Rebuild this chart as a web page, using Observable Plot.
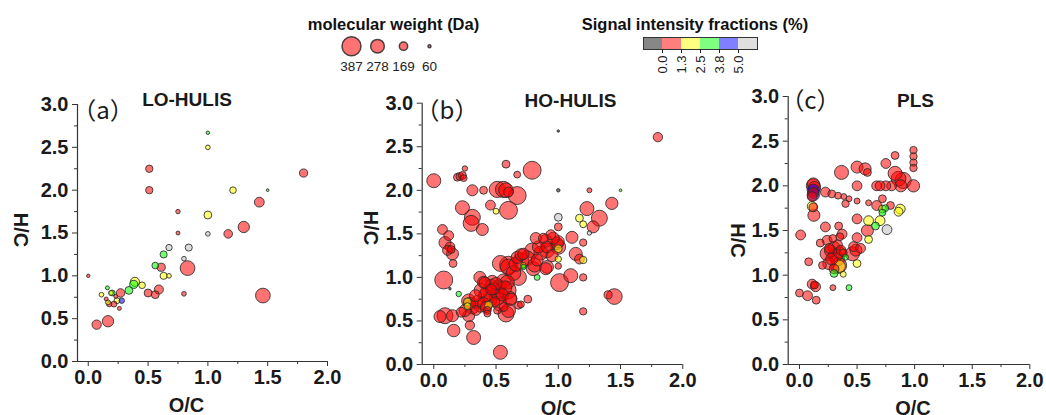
<!DOCTYPE html>
<html><head><meta charset="utf-8">
<script src="https://cdn.jsdelivr.net/npm/d3@7"></script>
<script src="https://cdn.jsdelivr.net/npm/@observablehq/plot@0.6"></script>
<style>
body{margin:0;background:#fff;}
#chart{position:relative;width:1046px;height:415px;overflow:hidden;font-family:"Liberation Sans",Arial,sans-serif;background:#fff;}
.pane{position:absolute;}
.ltitle{position:absolute;font-weight:bold;font-size:16.5px;text-align:center;line-height:20px;color:#111;}
</style></head><body><div id="chart"></div>
<script>
// ---- data: [O/C, H/C, molecular weight (Da), signal intensity fraction (%)] ----
const loHulis = [
  [0.00,1.00,70,0.5],[0.07,0.43,190,0.5],[0.165,0.47,230,0.5],[0.51,2.25,150,0.5],[0.51,2.00,150,0.5],
  [1.00,2.67,70,3.0],[1.00,2.50,95,2.0],[1.21,2.00,135,2.0],[1.50,2.00,55,3.0],[1.80,2.20,165,0.5],
  [1.43,1.86,200,0.5],[1.30,1.57,230,0.5],[1.17,1.49,175,0.5],[1.00,1.71,160,2.0],[1.00,1.49,95,6.0],
  [0.75,1.75,90,0.5],[0.75,1.50,80,0.5],[0.83,1.09,300,0.5],[1.46,0.77,300,0.5],[0.80,0.79,95,0.5],
  [0.675,1.33,130,6.0],[0.84,1.33,145,6.0],[0.80,1.20,95,6.0],[0.63,1.25,145,3.0],[0.56,1.12,135,3.0],
  [0.61,1.10,165,0.5],[0.63,1.00,145,2.0],[0.675,1.00,95,2.0],[0.59,0.84,185,0.5],[0.56,0.78,160,0.5],
  [0.50,0.80,160,0.5],[0.39,0.93,185,2.0],[0.38,0.90,165,3.0],[0.45,0.89,135,2.0],[0.34,0.83,160,3.0],
  [0.27,0.80,175,0.5],[0.20,0.80,120,3.0],[0.16,0.86,80,3.0],[0.11,0.78,95,2.0],[0.24,0.71,120,2.0],
  [0.28,0.71,110,4.5],[0.215,0.67,120,0.5],[0.175,0.67,110,0.5],[0.165,0.69,100,2.0],[0.26,0.62,80,0.5],
  [0.15,0.73,80,0.5],[0.23,0.76,80,0.5],[0.19,0.80,100,2.0]
];
const hoHulis = [
  [0.00,2.11,285,0.5],[0.19,2.15,160,0.5],[0.21,2.16,160,0.5],[0.23,2.17,160,0.5],[0.24,2.14,140,0.5],
  [0.25,2.25,110,0.5],[0.58,2.30,160,0.5],[0.67,2.18,140,0.5],[0.79,2.23,365,0.5],[0.31,2.00,225,0.5],
  [0.40,2.00,160,0.5],[0.51,2.01,330,0.5],[0.56,2.01,330,0.5],[0.58,2.00,300,0.5],[0.60,1.98,200,0.5],
  [0.67,1.94,365,0.5],[0.455,1.83,200,0.5],[0.50,1.76,120,2.0],[0.60,1.77,365,0.5],[0.23,1.80,285,0.5],
  [0.31,1.69,325,0.5],[0.30,1.62,325,0.5],[0.39,1.55,245,0.5],[1.80,2.61,190,0.5],[1.00,2.68,50,-1],
  [1.00,2.00,70,-1],[1.25,2.00,100,0.5],[1.50,2.00,55,3.0],
  [0.07,1.55,200,0.5],[0.12,1.48,200,0.5],[0.09,1.40,245,0.5],[0.13,1.35,200,0.5],[0.11,1.31,200,0.5],
  [0.15,1.27,245,0.5],[0.155,1.16,160,0.5],[0.14,1.32,160,0.5],[0.08,0.97,365,0.5],[0.13,0.87,50,-1],
  [0.20,0.81,110,3.0],[0.09,0.56,325,0.5],[0.05,0.55,245,0.5],[0.15,0.56,245,0.5],[0.16,0.39,255,0.5],
  [0.29,0.45,190,0.5],[0.32,0.31,285,0.5],[0.535,0.14,285,0.5],
  [0.27,0.72,160,2.0],[0.27,0.67,140,2.0],[0.28,0.56,245,0.5],[0.25,0.62,245,0.5],[0.28,0.73,285,0.5],
  [0.31,0.66,285,0.5],[0.29,0.70,245,0.5],[0.335,0.79,245,0.5],[0.375,0.68,285,0.5],[0.40,0.70,245,0.5],
  [0.415,0.79,285,0.5],[0.43,0.81,325,0.5],[0.41,0.94,230,0.5],[0.37,1.00,245,0.5],[0.40,0.945,245,0.5],
  [0.46,0.91,245,0.5],[0.48,0.87,245,0.5],[0.52,0.89,285,0.5],[0.51,0.83,285,0.5],[0.51,0.77,325,0.5],
  [0.44,0.68,160,2.0],[0.43,0.62,160,0.5],[0.43,0.585,140,0.5],[0.51,0.62,150,0.5],[0.56,0.96,285,0.5],
  [0.59,0.945,285,0.5],[0.59,0.85,360,0.5],[0.61,0.76,285,0.5],[0.62,0.75,245,0.5],[0.60,0.62,285,0.5],
  [0.58,0.58,325,0.5],[0.535,1.16,325,0.5],[0.60,1.12,325,0.5],[0.60,1.14,365,0.5],[0.68,1.00,325,0.5],
  [0.68,0.68,160,0.5],[0.70,0.69,140,0.5],[0.755,0.75,160,0.5],[0.67,1.23,245,0.5],[0.70,1.26,245,0.5],
  [0.72,1.27,230,0.5],[0.70,1.19,325,0.5],[0.72,1.14,110,2.0],[0.72,1.12,110,3.0],[0.79,1.31,300,0.5],
  [0.80,1.10,285,0.5],[0.81,1.14,280,0.5],[0.83,1.20,245,0.5],[0.84,1.35,245,0.5],[0.82,1.45,230,0.5],
  [0.83,1.00,120,3.0],[0.90,1.10,245,0.5],[0.91,1.12,260,0.5],[0.90,1.42,260,0.5],[0.91,1.31,300,0.5],
  [0.94,1.49,200,0.5],[0.91,1.35,245,0.5],[0.99,1.39,245,0.5],[1.00,1.41,245,1.0],[1.00,1.35,300,0.5],
  [1.00,1.33,160,2.0],[1.00,1.58,160,0.5],[1.00,1.69,160,6.0],[1.00,1.21,130,2.0],[1.00,1.13,130,0.5],
  [1.01,0.94,365,0.5],[1.10,1.02,285,0.5],[1.11,1.46,245,0.5],[1.14,1.27,265,0.5],[1.17,1.21,200,0.5],
  [1.20,1.20,150,2.0],[1.20,1.40,150,0.5],[1.20,1.00,150,0.5],[1.20,0.61,150,0.5],[1.17,1.68,160,2.0],
  [1.20,1.61,140,2.0],[1.25,1.51,90,6.0],[1.23,1.79,285,0.5],[1.33,1.68,325,0.5],[1.28,1.58,245,0.5],
  [1.43,1.85,250,0.5],[1.40,0.80,165,0.5],[1.45,0.78,320,0.5],
  [0.22,0.60,200,0.5],[0.34,0.62,200,0.5],[0.46,0.86,220,0.5],[0.55,0.80,250,0.5],[0.49,0.72,200,0.5],
  [0.56,0.66,180,0.5],[0.45,0.75,300,0.5],[0.38,0.85,285,0.5],[0.53,0.70,300,0.5],[0.47,0.95,260,0.5],
  [0.35,0.72,260,0.5],[0.57,0.88,285,0.5],[0.42,0.66,230,0.5],[0.50,0.93,245,0.5],[0.64,1.05,300,0.5],
  [0.66,1.15,285,0.5],[0.75,1.22,300,0.5],[0.86,1.28,285,0.5],[0.95,1.25,245,0.5],[0.88,1.45,200,0.5],
  [0.96,1.45,245,0.5]
];
const pls = [
  [0.99,2.40,150,0.5],[0.99,2.33,150,0.5],[0.99,2.26,150,0.5],[0.99,2.20,150,0.5],[0.99,2.00,250,0.5],
  [0.83,2.34,160,0.5],[0.75,2.25,200,0.5],[0.83,2.14,285,0.5],[0.90,2.06,330,0.5],[0.86,2.08,300,0.5],
  [0.88,2.00,245,0.5],[0.80,2.00,200,0.5],[0.75,2.00,200,0.5],[0.67,2.00,200,0.5],[0.70,2.00,200,0.5],
  [0.50,2.00,200,0.5],[0.50,2.21,245,0.5],[0.57,2.19,245,0.5],[0.59,2.15,160,0.5],[0.365,2.15,285,0.5],
  [0.12,2.00,285,0.5],[0.12,2.02,250,0.5],[0.13,1.98,250,0.5],[0.12,1.95,250,4.5],[0.12,1.90,250,4.5],
  [0.12,1.92,220,0.5],[0.11,1.88,200,0.5],[0.225,1.93,200,0.5],[0.28,1.91,160,0.5],[0.335,1.89,140,0.5],
  [0.385,1.88,120,0.5],[0.43,1.855,120,0.5],[0.50,1.83,120,0.5],[0.40,1.80,150,0.5],[0.60,1.81,120,0.5],
  [0.67,1.78,200,0.5],[0.72,1.855,160,0.5],[0.72,1.74,160,2.0],[0.745,1.75,140,3.0],[0.79,1.78,160,0.5],
  [0.875,1.74,200,2.0],[0.86,1.71,180,2.0],[0.11,1.77,200,2.0],[0.12,1.76,180,0.5],[0.125,1.67,245,0.5],
  [0.72,1.70,140,3.0],[0.60,1.61,200,2.0],[0.70,1.61,200,2.0],[0.66,1.55,160,3.0],[0.76,1.51,200,6.0],
  [0.50,1.63,200,0.5],[0.59,1.50,245,0.5],[0.01,1.45,200,0.5],[0.225,1.54,200,0.5],[0.34,1.55,160,0.5],
  [0.18,1.36,160,0.5],[0.24,1.39,200,0.5],[0.29,1.41,160,0.5],[0.37,1.46,200,0.5],[0.35,1.43,160,0.5],
  [0.50,1.42,200,0.5],[0.49,1.28,245,0.5],[0.46,1.24,285,0.5],[0.47,1.32,200,0.5],[0.40,1.20,120,3.0],
  [0.30,1.31,245,0.5],[0.24,1.24,285,0.5],[0.31,1.22,285,0.5],[0.27,1.27,245,0.5],[0.33,1.34,200,0.5],
  [0.36,1.28,200,0.5],[0.38,1.25,160,0.5],[0.255,1.13,245,0.5],[0.20,1.11,160,0.5],[0.34,1.11,325,0.5],
  [0.345,1.10,250,2.0],[0.30,1.07,200,0.5],[0.30,1.02,160,3.0],[0.38,1.01,120,2.0],[0.50,1.13,160,2.0],
  [0.60,1.40,160,2.0],[0.43,0.86,120,3.0],[0.29,0.86,120,0.5],[0.08,1.15,160,0.5],[0.11,0.90,200,0.5],
  [0.14,0.87,200,0.5],[0.13,0.89,160,0.5],[0.00,0.80,160,0.5],[0.07,0.77,200,0.5],[0.145,0.72,160,0.5],
  [0.53,1.30,200,0.5],[0.28,1.18,245,0.5],[0.33,1.18,285,0.5],[0.26,1.30,200,0.5],[0.35,1.25,245,0.5]
];

// ---- labels, ticks, legend values ----
const panelLetters = ["（a）", "（b）", "（c）"];
const panelTitles = ["LO-HULIS", "HO-HULIS", "PLS"];
const xLabel = "O/C", yLabel = "H/C";
const xTicks = [0, 0.5, 1.0, 1.5, 2.0];
const xMinor = [0.25, 0.75, 1.25, 1.75];
const yTicks = [0, 0.5, 1.0, 1.5, 2.0, 2.5, 3.0];
const yMinor = [0.25, 0.75, 1.25, 1.75, 2.25, 2.75];
const sizeLegendTitle = "molecular weight (Da)";
const sizeLegendMW = [387, 278, 169, 60];
const colorLegendTitle = "Signal intensity fractions (%)";
const colorThresholds = [0, 1.3, 2.5, 3.8, 5.0];
const colorLabels = ["0.0", "1.3", "2.5", "3.8", "5.0"];
const binColors = ["#101010", "#ff0000", "#ffff00", "#00ff00", "#0000ff", "#c0c0c0"];

// ---- layout (positions only) ----
const FONT = "Liberation Sans, Arial, sans-serif";
const rScale = {type: "linear", domain: [0, 387], range: [0, 9.5]};
const layouts = [
  {left: 0,   width: 337, ml: 77,   mr: 10,   mt: 24,   mb: 54, x0: -0.09,
   yl: [-57, -3], xl: [-16, 44], let: [25.5, 7], tit: [109.5, -4.5]},
  {left: 350, width: 345, ml: 71.7, mr: 12.7, mt: 22.7, mb: 51, x0: -0.093,
   yl: [-52, -6], xl: [6, 44], let: [24.8, 8.3], tit: [148.3, -2.7]},
  {left: 700, width: 346, ml: 87.7, mr: 16.7, mt: 16,   mb: 51, x0: -0.098,
   yl: [-51, 10], xl: [4, 44], let: [22.3, 5], tit: [127.3, 4]}
];
const datasets = [loHulis, hoHulis, pls];

const chart = document.getElementById("chart");
function place(node, left, top) {
  const d = document.createElement("div");
  d.className = "pane";
  d.style.left = left + "px";
  d.style.top = top + "px";
  d.appendChild(node);
  chart.appendChild(d);
}

datasets.forEach((rows, k) => {
  const L = layouts[k];
  const pts = rows.map(([oc, hc, mw, f]) => ({oc, hc, mw, f}));
  const svg = Plot.plot({
    width: L.width, height: 335,
    marginLeft: L.ml, marginRight: L.mr, marginTop: L.mt, marginBottom: L.mb,
    x: {domain: [L.x0, 2.0]},
    y: {domain: [0, 3.0]},
    r: rScale,
    color: {type: "threshold", domain: colorThresholds, range: binColors},
    style: {fontFamily: FONT, fontSize: "20px", fontWeight: "bold", color: "#1a1a1a", background: "transparent", overflow: "visible"},
    marks: [
      Plot.dot(pts, {x: "oc", y: "hc", r: "mw", fill: "f", fillOpacity: 0.55, stroke: "#2a2a2a", strokeOpacity: 0.85, strokeWidth: 1}),
      Plot.ruleX([L.x0], {stroke: "#333", strokeWidth: 1.2}),
      Plot.ruleY([0], {stroke: "#333", strokeWidth: 1.2}),
      Plot.axisY({ticks: yTicks, tickSize: 5, tickPadding: 4, tickFormat: d3.format(".1f"), label: null, stroke: "#333"}),
      Plot.axisY({ticks: yMinor, tickSize: 3, tickFormat: () => "", label: null, stroke: "#333"}),
      Plot.axisX({ticks: xTicks, tickSize: 5, tickPadding: 3, tickFormat: d3.format(".1f"), label: null, stroke: "#333"}),
      Plot.axisX({ticks: xMinor, tickSize: 3, tickFormat: () => "", label: null, stroke: "#333"}),
      Plot.text([xLabel], {text: d => d, frameAnchor: "bottom", dx: L.xl[0], dy: L.xl[1], lineAnchor: "middle", fontSize: 20, fontWeight: "bold"}),
      Plot.text([yLabel], {text: d => d, frameAnchor: "left", dx: L.yl[0], dy: L.yl[1], rotate: 90, textAnchor: "middle", lineAnchor: "middle", fontSize: 20, fontWeight: "bold"}),
      Plot.text([panelLetters[k]], {text: d => d, frameAnchor: "top-left", dx: L.let[0], dy: L.let[1], textAnchor: "middle", lineAnchor: "middle", fontSize: 24, fontWeight: "normal", fontFamily: "Noto Sans CJK SC"}),
      Plot.text([panelTitles[k]], {text: d => d, frameAnchor: "top-left", dx: L.tit[0], dy: L.tit[1], textAnchor: "middle", lineAnchor: "middle", fontSize: 19, fontWeight: "bold"})
    ]
  });
  place(svg, L.left, 80);
});

// ---- size legend ----
const sizeLeg = Plot.plot({
  width: 140, height: 46, margin: 0,
  x: {type: "point", domain: sizeLegendMW, range: [30, 109], padding: 0, axis: null},
  r: rScale,
  style: {fontFamily: FONT, background: "transparent", overflow: "visible"},
  marks: [
    Plot.dot(sizeLegendMW, {x: d => d, r: d => d, frameAnchor: "top", dy: 15.7, fill: "#ff0000", fillOpacity: 0.55, stroke: "#2a2a2a", strokeOpacity: 0.85}),
    Plot.text(sizeLegendMW, {x: d => d, text: d => String(d), frameAnchor: "top", dy: 36, lineAnchor: "middle", fontSize: 13.5, fill: "#222"})
  ]
});
place(sizeLeg, 320, 30);

// ---- colour legend ----
const binIdx = d3.range(binColors.length);
const colLeg = Plot.plot({
  width: 140, height: 50, marginLeft: 13, marginRight: 13, marginTop: 7, marginBottom: 31,
  x: {domain: [0, binColors.length]},
  style: {fontFamily: FONT, fontSize: "13px", background: "transparent", overflow: "visible", color: "#222"},
  marks: [
    Plot.rect(binIdx, {x1: d => d, x2: d => d + 1, fill: d => binColors[d], fillOpacity: 0.5}),
    Plot.frame({stroke: "#333"}),
    Plot.axisX({ticks: d3.range(1, binColors.length), tickSize: 4, tickPadding: 2, tickRotate: -90,
      tickFormat: i => colorLabels[i - 1], label: null})
  ]
});
place(colLeg, 630, 30);

// ---- legend titles ----
function title(txt, cx, top, w) {
  const d = document.createElement("div");
  d.className = "ltitle";
  d.style.left = (cx - w / 2) + "px";
  d.style.width = w + "px";
  d.style.top = top + "px";
  d.textContent = txt;
  chart.appendChild(d);
}
title(sizeLegendTitle, 393.5, 14, 220);
title(colorLegendTitle, 695, 14, 300);
</script></body></html>
